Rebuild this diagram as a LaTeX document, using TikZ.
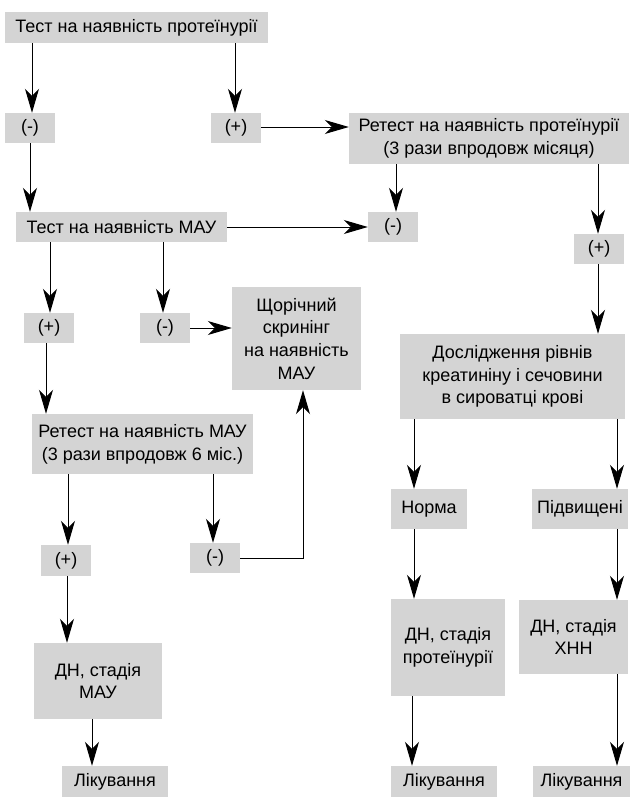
\documentclass[tikz,border=0pt]{standalone}
\usepackage{fontspec}
\setmainfont{Liberation Sans}
\usetikzlibrary{arrows.meta}
\definecolor{boxgray}{RGB}{212,212,212}
\tikzset{
  box/.style={fill=boxgray, draw=none, inner sep=0pt, align=center,
    font=\fontsize{18}{22.7}\selectfont},
  arr/.style={-{Stealth[length=24pt,width=14pt,inset=7pt]}, line width=1pt, draw=black},
}
\begin{document}
\begin{tikzpicture}[x=1pt,y=-1pt]
\useasboundingbox (0,0) rectangle (630,797);
% boxes (centre, width, height)
\node[box, minimum width=263pt, minimum height=31pt] (t1) at (136.5,27.5) {Тест на наявність протеїнурії};
\node[box, minimum width=50pt, minimum height=30pt] (m1) at (30,128) {(-)};
\node[box, minimum width=50pt, minimum height=30pt] (p1) at (236,128) {(+)};
\node[box, minimum width=280pt, minimum height=51pt] (r1) at (489,138.5) {Ретест на наявність протеїнурії\\(3 рази впродовж місяця)};
\node[box, minimum width=50pt, minimum height=30pt] (m2) at (393,227) {(-)};
\node[box, minimum width=211pt, minimum height=30pt] (t2) at (121.5,227) {Тест на наявність МАУ};
\node[box, minimum width=50pt, minimum height=30pt] (p2) at (599,249) {(+)};
\node[box, minimum width=225pt, minimum height=85pt] (d) at (512.5,376.5) {Дослідження рівнів\\креатиніну і сечовини\\в сироватці крові};
\node[box, minimum width=50pt, minimum height=30pt] (p3) at (49,328) {(+)};
\node[box, minimum width=50pt, minimum height=30pt] (m3) at (165,328) {(-)};
\node[box, minimum width=129pt, minimum height=103pt] (s) at (296.5,338.5) {Щорічний\\скринінг\\на наявність\\МАУ};
\node[box, minimum width=221pt, minimum height=60pt] (r2) at (142.5,444) {Ретест на наявність МАУ\\(3 рази впродовж 6 міс.)};
\node[box, minimum width=50pt, minimum height=31pt] (p4) at (66,560.5) {(+)};
\node[box, minimum width=50pt, minimum height=30pt] (m4) at (215,558) {(-)};
\node[box, minimum width=128pt, minimum height=76pt] (dm) at (98,681) {ДН, стадія\\МАУ};
\node[box, minimum width=106pt, minimum height=31pt] (l1) at (115,781.5) {Лікування};
\node[box, minimum width=76pt, minimum height=40pt] (n) at (429,509) {Норма};
\node[box, minimum width=96pt, minimum height=40pt] (pv) at (580,509) {Підвищені};
\node[box, minimum width=114pt, minimum height=97pt] (dp) at (448,647.5) {ДН, стадія\\протеїнурії};
\node[box, minimum width=109pt, minimum height=74pt] (dx) at (573.5,637) {ДН, стадія\\ХНН};
\node[box, minimum width=106pt, minimum height=31pt] (l2) at (444,781.5) {Лікування};
\node[box, minimum width=97pt, minimum height=31pt] (l3) at (581.5,781.5) {Лікування};
% column coordinates for connectors
\coordinate (c32) at (32,0);
\coordinate (c30) at (30,0);
\coordinate (c235) at (235,0);
\coordinate (c396) at (396,0);
\coordinate (c598) at (598,0);
\coordinate (c50) at (50,0);
\coordinate (c163) at (163,0);
\coordinate (c46) at (46,0);
\coordinate (c68) at (68,0);
\coordinate (c213) at (213,0);
\coordinate (c67) at (67,0);
\coordinate (c92) at (92,0);
\coordinate (c303) at (303,0);
\coordinate (c414) at (414,0);
\coordinate (c412) at (412,0);
\coordinate (c617) at (617,0);
\coordinate (r127) at (0,127);
% connectors
\draw[arr] (t1.south -| c32) -- (m1.north -| c32);
\draw[arr] (t1.south -| c235) -- (p1.north -| c235);
\draw[arr] (m1.south -| c30) -- (t2.north -| c30);
\draw[arr] (p1.east |- r127) -- (r1.west |- r127);
\draw[arr] (r1.south -| c396) -- (m2.north -| c396);
\draw[arr] (t2.east) -- (m2.west);
\draw[arr] (r1.south -| c598) -- (p2.north -| c598);
\draw[arr] (p2.south -| c598) -- (d.north -| c598);
\draw[arr] (t2.south -| c50) -- (p3.north -| c50);
\draw[arr] (t2.south -| c163) -- (m3.north -| c163);
\draw[arr] (m3.east) -- (s.west |- m3.east);
\draw[arr] (p3.south -| c46) -- (r2.north -| c46);
\draw[arr] (r2.south -| c68) -- (p4.north -| c68);
\draw[arr] (r2.south -| c213) -- (m4.north -| c213);
\draw[arr] (m4.east) -| (s.south -| c303);
\draw[arr] (p4.south -| c67) -- (dm.north -| c67);
\draw[arr] (dm.south -| c92) -- (l1.north -| c92);
\draw[arr] (d.south -| c414) -- (n.north -| c414);
\draw[arr] (n.south -| c414) -- (dp.north -| c414);
\draw[arr] (dp.south -| c412) -- (l2.north -| c412);
\draw[arr] (d.south -| c617) -- (pv.north -| c617);
\draw[arr] (pv.south -| c617) -- (dx.north -| c617);
\draw[arr] (dx.south -| c617) -- (l3.north -| c617);
\end{tikzpicture}
\end{document}
